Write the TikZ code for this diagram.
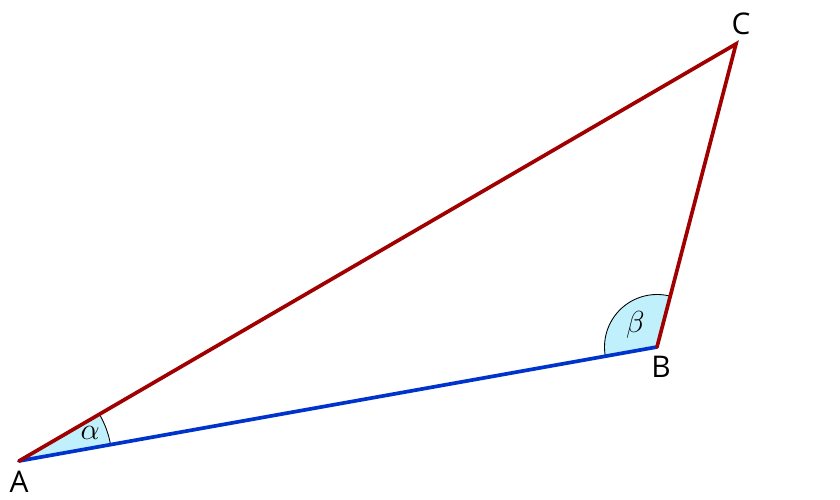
\documentclass[tikz,border=0pt]{standalone}
\usepackage{fontspec}
\setsansfont{Open Sans}
\usetikzlibrary{angles}

\definecolor{sidered}{RGB}{160,0,0}
\definecolor{sideblue}{RGB}{0,51,204}
\definecolor{anglecyan}{RGB}{192,240,252}

\begin{document}
\begin{tikzpicture}[
  side/.style={line width=2.1pt, line cap=round},
  anglemark/.style={draw=black, line width=0.5pt, fill=anglecyan},
  vertexlabel/.style={font=\sffamily\fontsize{17}{20}\selectfont, inner sep=0pt},
  greeklabel/.style={font=\fontsize{19}{22}\selectfont, inner sep=0pt}
]
% fix the picture size (840 x 500)
\useasboundingbox (0,0) rectangle (16.8,10);

% corners of the triangle
\coordinate (A) at (0.38,0.78);
\coordinate (B) at (13.14,3.06);
\coordinate (C) at (14.72,9.12);

% shaded angles at A and B
\pic[anglemark, angle radius=1.86cm] {angle = B--A--C};
\pic[anglemark, angle radius=1.05cm] {angle = C--B--A};

% sides of the triangle
\draw[side, color=sideblue] (A) -- (B);
\draw[side, color=sidered] (B) -- (C) -- (A);

% angle names
\node[greeklabel] (alpha) at ([shift={(21.3:1.53)}]A) {$\alpha$};
\node[greeklabel] (beta) at ([shift={(134:0.62)}]B) {$\beta$};

% vertex names
\node[vertexlabel] (labelA) at (0.38,0.36) {A};
\node[vertexlabel] (labelB) at (13.22,2.66) {B};
\node[vertexlabel] (labelC) at (14.82,9.52) {C};

\end{tikzpicture}
\end{document}
